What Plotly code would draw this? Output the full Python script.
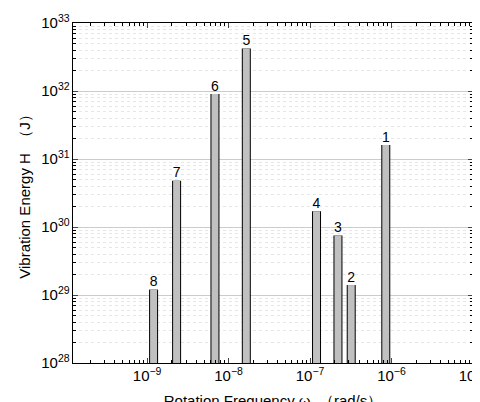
import plotly.graph_objects as go

labels = ["8", "7", "6", "5", "4", "3", "2", "1"]
freq = [1.2e-9, 2.3e-9, 6.8e-9, 1.65e-8, 1.2e-7, 2.2e-7, 3.2e-7, 8.5e-7]
energy = [1.2e29, 4.8e30, 9.0e31, 4.2e32, 1.7e30, 7.5e29, 1.4e29, 1.6e31]

fig = go.Figure()
for f, e, l in zip(freq, energy, labels):
    fig.add_trace(go.Scatter(x=[f, f], y=[1e28, e], mode="lines",
                             line=dict(color="black", width=9), hoverinfo="skip"))
    fig.add_trace(go.Scatter(x=[f, f], y=[1e28, e], mode="lines",
                             line=dict(color="#c0c0c0", width=7), hoverinfo="skip"))
fig.add_trace(go.Scatter(x=freq, y=energy, mode="text", text=labels,
                         textposition="top center",
                         textfont=dict(size=14, color="black")))

fig.update_layout(
    width=480, height=402, showlegend=False,
    paper_bgcolor="white", plot_bgcolor="white",
    margin=dict(l=65, r=15, t=15, b=47),
    font=dict(family="Liberation Sans, Arial", color="black", size=12),
)
fig.update_xaxes(type="log", range=[-9.91, -5], exponentformat="power",
                 dtick=1, showgrid=False, showline=True, linecolor="black",
                 mirror="ticks", ticks="inside", ticklen=5, automargin=False,
                 minor=dict(ticks="inside", ticklen=3, tickcolor="black"),
                 title=dict(text="Rotation Frequency ω  （rad/s）", font=dict(size=15),
                            standoff=12))
fig.update_yaxes(type="log", range=[28, 33], exponentformat="power",
                 dtick=1, showgrid=True, gridcolor="#cccccc", showline=True,
                 linecolor="black", mirror="ticks", ticks="inside", ticklen=5,
                 automargin=False,
                 minor=dict(ticks="inside", ticklen=3, tickcolor="black",
                            showgrid=True, gridcolor="#e6e6e6", griddash="dot"),
                 title=dict(text="Vibration Energy H  （J）", font=dict(size=15),
                            standoff=6))
fig.write_html("out.html")
